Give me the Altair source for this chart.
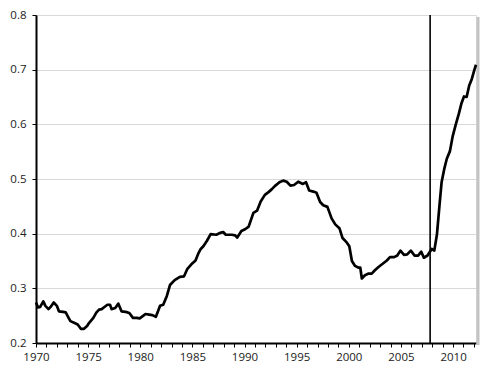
import altair as alt
import pandas as pd

years = [1970.0, 1970.2, 1970.4, 1970.7, 1970.9, 1971.2, 1971.4, 1971.7, 1972.0, 1972.2,
         1972.6, 1972.85, 1973.1, 1973.3, 1973.65, 1974.0, 1974.3, 1974.6, 1974.9, 1975.1,
         1975.5, 1975.8, 1976.05, 1976.3, 1976.5, 1976.85, 1977.1, 1977.25, 1977.6, 1977.9,
         1978.2, 1978.6, 1978.95, 1979.3, 1979.65, 1979.95, 1980.3, 1980.5, 1980.85, 1981.15,
         1981.5, 1981.7, 1981.9, 1982.2, 1982.55, 1982.85, 1983.3, 1983.8, 1984.2, 1984.5,
         1984.9, 1985.3, 1985.6, 1985.8, 1986.05, 1986.4, 1986.75, 1987.3, 1987.6, 1987.95,
         1988.2, 1988.8, 1989.1, 1989.3, 1989.7, 1990.05, 1990.4, 1990.85, 1991.2, 1991.55,
         1991.95, 1992.3, 1992.6, 1992.9, 1993.35, 1993.7, 1994.05, 1994.4, 1994.75, 1995.15,
         1995.6, 1995.9, 1996.2, 1996.6, 1996.9, 1997.25, 1997.55, 1997.95, 1998.35, 1998.7,
         1999.1, 1999.4, 1999.8, 2000.05, 2000.3, 2000.6, 2000.9, 2001.1, 2001.25, 2001.55,
         2001.9, 2002.2, 2002.5, 2002.85, 2003.25, 2003.65, 2003.95, 2004.35, 2004.65, 2004.95,
         2005.3, 2005.6, 2005.95, 2006.3, 2006.65, 2006.95, 2007.2, 2007.55, 2007.95, 2008.2,
         2008.45, 2008.7, 2008.9, 2009.15, 2009.4, 2009.7, 2009.95, 2010.25, 2010.55, 2010.8,
         2011.05, 2011.3, 2011.55, 2011.8, 2012.05, 2012.2]
values = [0.274, 0.265, 0.266, 0.276, 0.268, 0.262, 0.266, 0.274, 0.268, 0.258,
          0.257, 0.256, 0.247, 0.240, 0.237, 0.234, 0.226, 0.226, 0.231, 0.237,
          0.246, 0.256, 0.261, 0.262, 0.265, 0.270, 0.270, 0.262, 0.264, 0.272,
          0.258, 0.257, 0.255, 0.246, 0.246, 0.245, 0.250, 0.253, 0.252, 0.251,
          0.248, 0.258, 0.268, 0.270, 0.286, 0.306, 0.315, 0.321, 0.322, 0.335,
          0.344, 0.351, 0.365, 0.372, 0.377, 0.387, 0.399, 0.398, 0.401, 0.403,
          0.398, 0.398, 0.397, 0.393, 0.405, 0.408, 0.413, 0.438, 0.442, 0.459,
          0.471, 0.476, 0.481, 0.487, 0.494, 0.497, 0.495, 0.488, 0.489, 0.495,
          0.491, 0.494, 0.479, 0.477, 0.475, 0.458, 0.452, 0.449, 0.428, 0.417,
          0.410, 0.392, 0.384, 0.377, 0.350, 0.341, 0.338, 0.338, 0.318, 0.324,
          0.327, 0.327, 0.333, 0.339, 0.345, 0.351, 0.357, 0.357, 0.360, 0.369,
          0.361, 0.362, 0.369, 0.360, 0.360, 0.367, 0.356, 0.360, 0.372, 0.369,
          0.398, 0.452, 0.494, 0.518, 0.537, 0.551, 0.577, 0.599, 0.619, 0.638,
          0.651, 0.650, 0.671, 0.683, 0.700, 0.709]

recession_start = [2007.8]
year_ticks = list(range(1970, 2013))
y_ticks = [0.2, 0.3, 0.4, 0.5, 0.6, 0.7, 0.8]

df = pd.DataFrame({"year": years, "value": values})
rec = pd.DataFrame({"year": recession_start})

FONT = "Open Sans"

x_scale = alt.Scale(domain=[1970, 2012.2], nice=False, zero=False)
y_scale = alt.Scale(domain=[0.2, 0.8], nice=False, zero=False)

line = alt.Chart(df).mark_line(color="black", strokeWidth=2.7, strokeJoin="round").encode(
    x=alt.X("year:Q", scale=x_scale, title=None,
            axis=alt.Axis(values=year_ticks, tickCount=100, format="d",
                          labelExpr="datum.value % 5 == 0 ? datum.label : ''",
                          grid=False, domainColor="black", domainWidth=2,
                          tickColor="black", tickSize=4, tickWidth=1,
                          labelFont=FONT, labelFontSize=11.5, labelColor="#222222",
                          labelPadding=4, labelOverlap=False, labelFlush=False)),
    y=alt.Y("value:Q", scale=y_scale, title=None,
            axis=alt.Axis(values=y_ticks, tickCount=20, format=".1f",
                          grid=True, gridColor="#d9d9d9", gridWidth=1,
                          domainColor="black", domainWidth=2,
                          tickColor="black", tickSize=4, tickWidth=1,
                          labelFont=FONT, labelFontSize=11.5, labelColor="#222222",
                          labelPadding=6, labelOverlap=False)),
)

vline = alt.Chart(rec).mark_rule(color="black", strokeWidth=1.6).encode(
    x=alt.X("year:Q", scale=x_scale)
)

shadow = alt.Chart(rec).mark_rule(color="#c4c4c4", strokeWidth=3).encode(
    x=alt.value(442), y=alt.value(2), y2=alt.value(330)
)

chart = alt.layer(shadow, line, vline).properties(
    width=440, height=328,
    padding={"left": 28, "top": 7, "right": 10, "bottom": 25},
    autosize=alt.AutoSizeParams(type="none"),
).configure_view(stroke="#d9d9d9", strokeWidth=1).configure(background="white")

chart.save("out.html", embed_options={"renderer": "svg", "actions": False})
